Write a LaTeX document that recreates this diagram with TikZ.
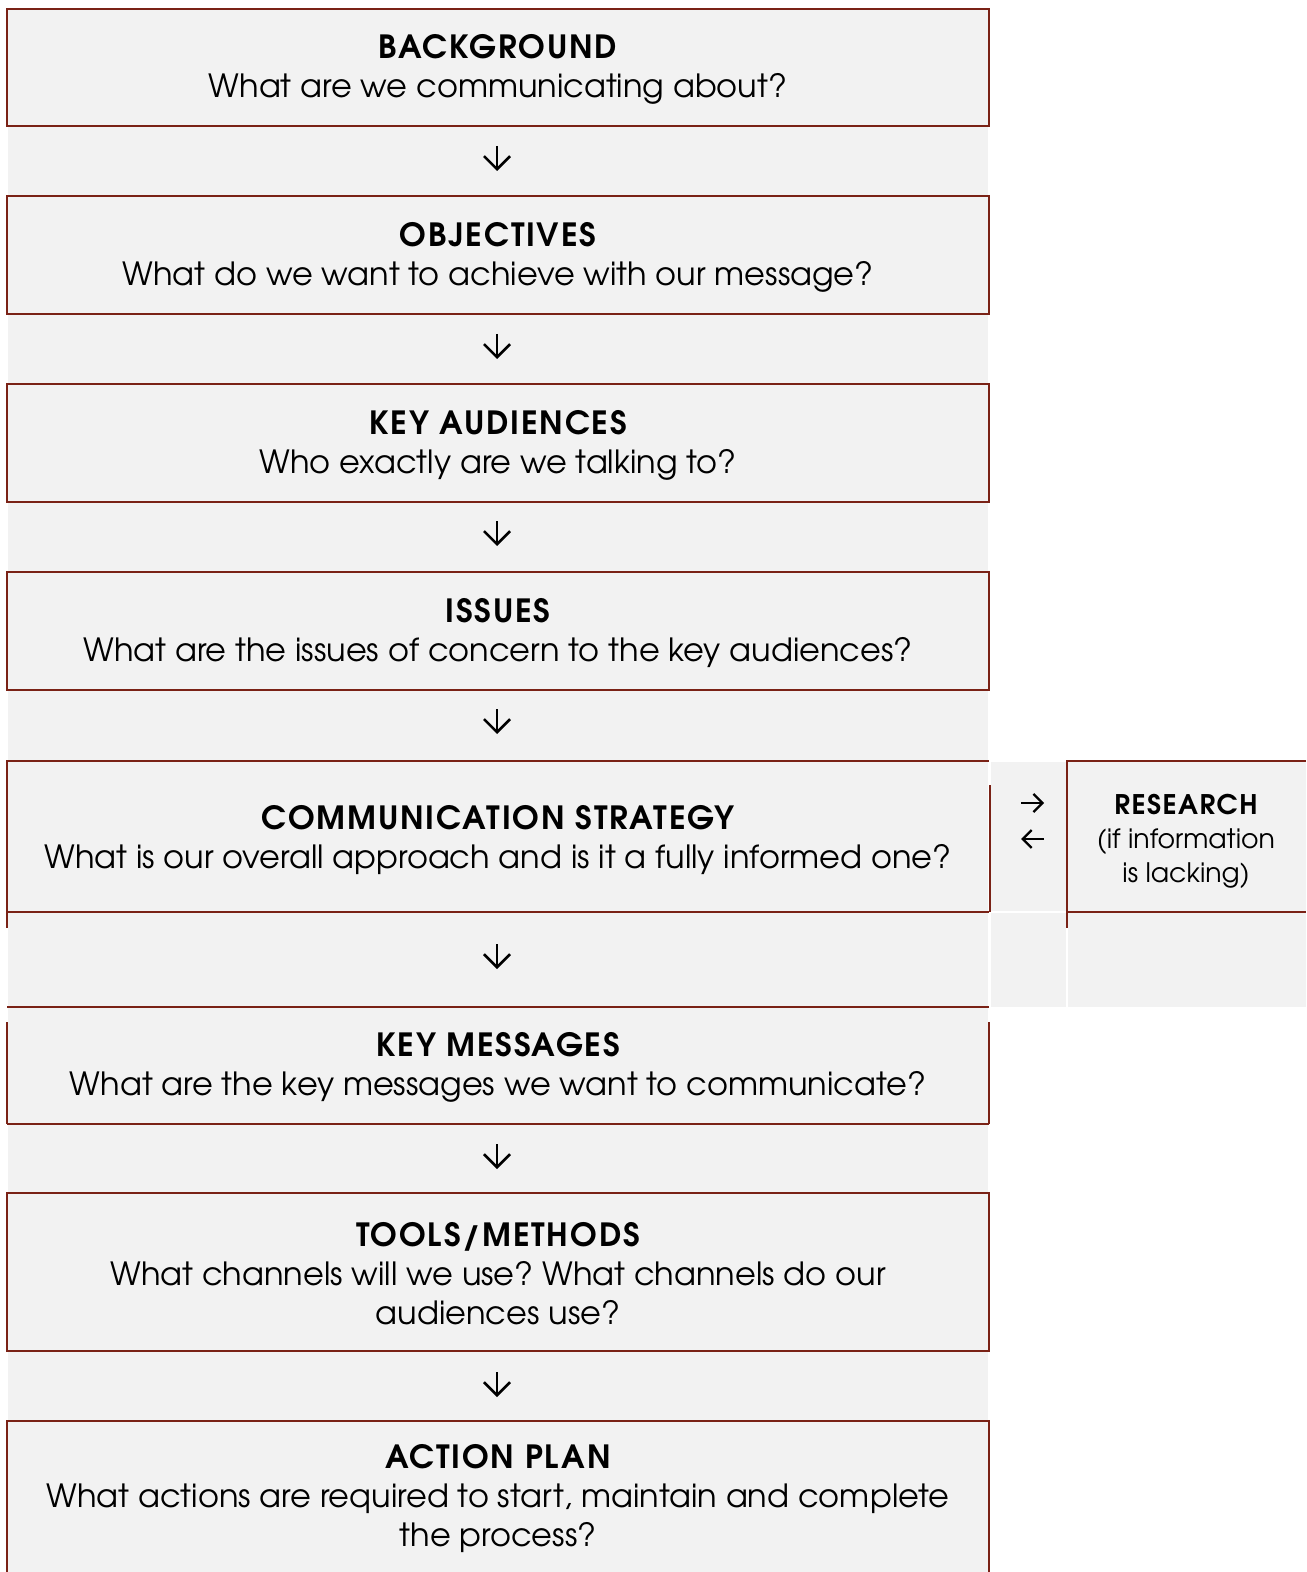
\documentclass[tikz,border=0pt]{standalone}
\usepackage{fontspec}
\setmainfont{TeX Gyre Adventor}
\newfontfamily\headfont{TeX Gyre Adventor}[LetterSpace=5.5]
\usetikzlibrary{arrows.meta}
\frenchspacing

\definecolor{cellgray}{HTML}{F2F2F2}
\definecolor{rulered}{RGB}{122,34,22}

\tikzset{
  cell/.style={fill=cellgray},
  rule/.style={draw=rulered, line width=0.75pt},
  stagetext/.style={align=center, inner sep=0pt, text=black,
    font=\fontsize{16pt}{19.5pt}\selectfont},
  sidetext/.style={align=center, inner sep=0pt, text=black,
    font=\fontsize{13.4pt}{17pt}\selectfont},
  downarrow/.style={line width=1.3pt,
    -{Straight Barb[length=6.5pt, width=13pt, line width=1.3pt]}},
  sidearrow/.style={line width=1.15pt,
    -{Straight Barb[length=4.5pt, width=9pt, line width=1.15pt]}},
}

\begin{document}
\begin{tikzpicture}[x=0.5pt, y=-0.5pt]
\useasboundingbox (0,0) rectangle (1306,1572);

% grey column of stages and the side column
\path[cell] (8,9) rectangle (988,1572);
\path[cell] (991,762) rectangle (1066,911);
\path[cell] (991,913) rectangle (1066,1007);
\path[cell] (1068,762) rectangle (1306,1007);

% stage frames
\draw[rule] (7,9) rectangle (989,126);
\draw[rule] (7,196) rectangle (989,314);
\draw[rule] (7,384) rectangle (989,502);
\draw[rule] (7,572) rectangle (989,690);
% communication strategy frame
\draw[rule] (7,761) -- (989,761);
\draw[rule] (7,912) -- (989,912);
\draw[rule] (7,760) -- (7,928);
\draw[rule] (990,785) -- (990,912);
% key messages frame
\draw[rule] (7,1007) -- (989,1007);
\draw[rule] (7,1124) -- (989,1124);
\draw[rule] (7,1022) -- (7,1124);
\draw[rule] (989,1022) -- (989,1124);
\draw[rule] (7,1193) rectangle (989,1351);
\draw[rule] (7,1572) -- (7,1421) -- (989,1421) -- (989,1572);
% research frame
\draw[rule] (1067,761) -- (1306,761);
\draw[rule] (1067,912) -- (1306,912);
\draw[rule] (1067,760) -- (1067,928);

% stage texts
\node[stagetext] (bg) at (498,69) {{\headfont\bfseries BACKGROUND}\\What are we communicating about?};
\node[stagetext] (obj) at (498,257) {{\headfont\bfseries OBJECTIVES}\\What do we want to achieve with our message?};
\node[stagetext] (aud) at (498,445) {{\headfont\bfseries KEY AUDIENCES}\\Who exactly are we talking to?};
\node[stagetext] (iss) at (498,633) {{\headfont\bfseries ISSUES}\\What are the issues of concern to the key audiences?};
\node[stagetext] (str) at (498,840) {{\headfont\bfseries COMMUNICATION STRATEGY}\\What is our overall approach and is it a fully informed one?};
\node[stagetext] (msg) at (498,1067) {{\headfont\bfseries KEY MESSAGES}\\What are the key messages we want to communicate?};
\node[stagetext] (tool) at (498,1274) {{\headfont\bfseries TOOLS/METHODS}\\What channels will we use? What channels do our\\audiences use?};
\node[stagetext] (act) at (498,1499) {{\headfont\bfseries ACTION PLAN}\\What actions are required to start, maintain and complete\\the process?};
\node[sidetext] (res) at (1186,841) {{\headfont\bfseries\fontsize{13.5pt}{17pt}\selectfont RESEARCH}\\(if information\\is lacking)};

% arrow ends inside the gaps
\coordinate (d1a) at (497,146);  \coordinate (d1b) at (497,171);
\coordinate (d2a) at (497,334);  \coordinate (d2b) at (497,359);
\coordinate (d3a) at (497,521);  \coordinate (d3b) at (497,546);
\coordinate (d4a) at (497,709);  \coordinate (d4b) at (497,734);
\coordinate (d5a) at (497,944);  \coordinate (d5b) at (497,969);
\coordinate (d6a) at (497,1144); \coordinate (d6b) at (497,1169);
\coordinate (d7a) at (497,1372); \coordinate (d7b) at (497,1397);
\coordinate (toR) at (1021,803); \coordinate (atR) at (1044,803);
\coordinate (frR) at (1044,839); \coordinate (atS) at (1021,839);

\draw[downarrow] (d1a) -- (d1b);
\draw[downarrow] (d2a) -- (d2b);
\draw[downarrow] (d3a) -- (d3b);
\draw[downarrow] (d4a) -- (d4b);
\draw[downarrow] (d5a) -- (d5b);
\draw[downarrow] (d6a) -- (d6b);
\draw[downarrow] (d7a) -- (d7b);
\draw[sidearrow] (toR) -- (atR);
\draw[sidearrow] (frR) -- (atS);
\end{tikzpicture}
\end{document}
